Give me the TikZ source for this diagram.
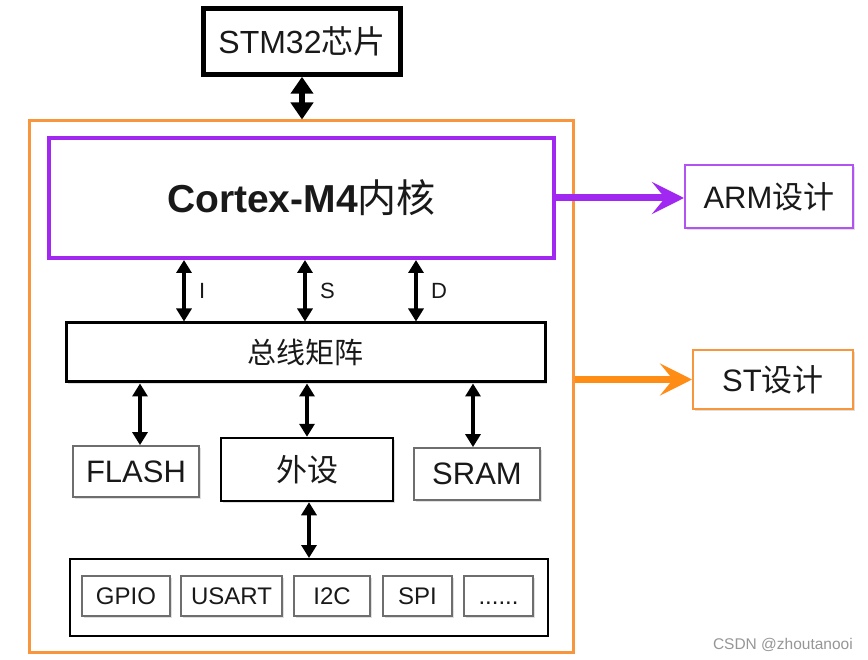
\documentclass[tikz,border=0pt]{standalone}
\usepackage{fontspec}
\setmainfont{Liberation Sans}
\newfontfamily\cjk{Noto Sans CJK SC}
\usetikzlibrary{arrows.meta,shadows,calc}
\definecolor{myorange}{RGB}{247,150,60}
\definecolor{arrorange}{RGB}{255,140,20}
\definecolor{mypurple}{RGB}{160,40,240}
\definecolor{txt}{RGB}{25,25,25}
\definecolor{lightedge}{RGB}{110,110,110}
\definecolor{wm}{RGB}{150,150,150}
\newcommand\fsz[1]{\fontsize{#1}{#1}\selectfont}
\begin{document}
\begin{tikzpicture}[x=1pt,y=-1pt,
  box/.style={draw, fill=white, inner sep=0pt, text=txt,
    drop shadow={shadow xshift=2pt, shadow yshift=-2pt, opacity=0.25}},
  biarrow/.style={line width=3.5pt, {Triangle[length=13pt,width=15pt]}-{Triangle[length=13pt,width=15pt]}},
  bigarrow/.style={line width=6pt, {Triangle[length=17pt,width=22pt]}-{Triangle[length=17pt,width=22pt]}},
  colarrow/.style={line width=7pt, -{Stealth[length=32pt,width=32pt,inset=13pt]}},
  smallbox/.style={box, draw=lightedge, line width=1.5pt, minimum height=40pt, font=\fsz{24}},
]
\path[use as bounding box, fill=white] (0,0) rectangle (868,660);

% outer orange frame
\node[draw=myorange, line width=3pt, minimum width=544pt, minimum height=531pt, inner sep=0pt] (chip) at (301,386.5) {};

% STM32
\node[box, line width=4.5pt, minimum width=197pt, minimum height=66pt, font=\fsz{32}] (stm) at (302,41.5) {STM32{\cjk 芯片}};

% Cortex core
\node[box, draw=mypurple, line width=4pt, minimum width=505pt, minimum height=120pt, font=\fsz{39}] (core) at (301.5,198) {\bfseries Cortex-M4{\cjk\mdseries 内核}};

% bus matrix
\node[box, line width=3pt, minimum width=479pt, minimum height=59pt, font=\fsz{29}] (bus) at (305.5,352.5) {\cjk 总线矩阵};

% memories and peripherals
\node[box, draw=lightedge, line width=1.8pt, minimum width=126pt, minimum height=51pt, font=\fsz{31}] (flash) at (136,471.5) {FLASH};
\node[box, line width=2.5pt, minimum width=172pt, minimum height=63pt, font=\fsz{31}] (periph) at (307,469.5) {\raisebox{3pt}{\cjk 外设}};
\node[box, draw=lightedge, line width=1.8pt, minimum width=126pt, minimum height=52pt, font=\fsz{31}] (sram) at (477,474) {SRAM};

% peripheral list
\node[draw, line width=2pt, fill=white, minimum width=478pt, minimum height=77pt, inner sep=0pt] (plist) at (309,597.5) {};
\node[smallbox, minimum width=88pt] (gpio) at (126,596) {GPIO};
\node[smallbox, minimum width=101pt] (usart) at (231.5,596) {USART};
\node[smallbox, minimum width=76pt] (iic) at (332,596) {I2C};
\node[smallbox, minimum width=69pt] (spi) at (417.5,596) {SPI};
\node[smallbox, minimum width=69pt] (more) at (498.5,596) {\vphantom{GPIO}......};

% design boxes
\node[box, draw=mypurple!80, line width=2pt, minimum width=168pt, minimum height=63pt, font=\fsz{31}] (arm) at (769,196.5) {ARM{\cjk 设计}};
\node[box, draw=myorange, line width=2pt, minimum width=160pt, minimum height=59pt, font=\fsz{31}] (st) at (773,379.5) {ST{\cjk 设计}};

% connectors
\draw[bigarrow] (stm.south) -- (stm.south |- chip.north);

\draw[biarrow] ([xshift=-117.5pt]core.south) -- ([xshift=-117.5pt]core.south |- bus.north)
  node[midway, right=10pt, font=\fsz{22}, text=txt] (lI) {I};
\draw[biarrow] ([xshift=3.5pt]core.south) -- ([xshift=3.5pt]core.south |- bus.north)
  node[midway, right=10pt, font=\fsz{22}, text=txt] (lS) {S};
\draw[biarrow] ([xshift=114.5pt]core.south) -- ([xshift=114.5pt]core.south |- bus.north)
  node[midway, right=10pt, font=\fsz{22}, text=txt] (lD) {D};

\draw[biarrow] ([xshift=4pt]flash.north |- bus.south) -- ([xshift=4pt]flash.north);
\draw[biarrow] (periph.north |- bus.south) -- (periph.north);
\draw[biarrow] ([xshift=-4pt]sram.north |- bus.south) -- ([xshift=-4pt]sram.north);
\draw[biarrow] ([xshift=2pt]periph.south) -- ([xshift=2pt]periph.south |- plist.north);

\draw[colarrow, mypurple] (core.east) -- (core.east -| arm.west);
\draw[colarrow, arrorange] (st.west -| chip.east) -- (st.west);

% watermark
\node[font=\fsz{15.5}, text=wm, anchor=east, inner sep=0pt] (wmark) at (853,645) {CSDN @zhoutanooi};
\end{tikzpicture}
\end{document}
